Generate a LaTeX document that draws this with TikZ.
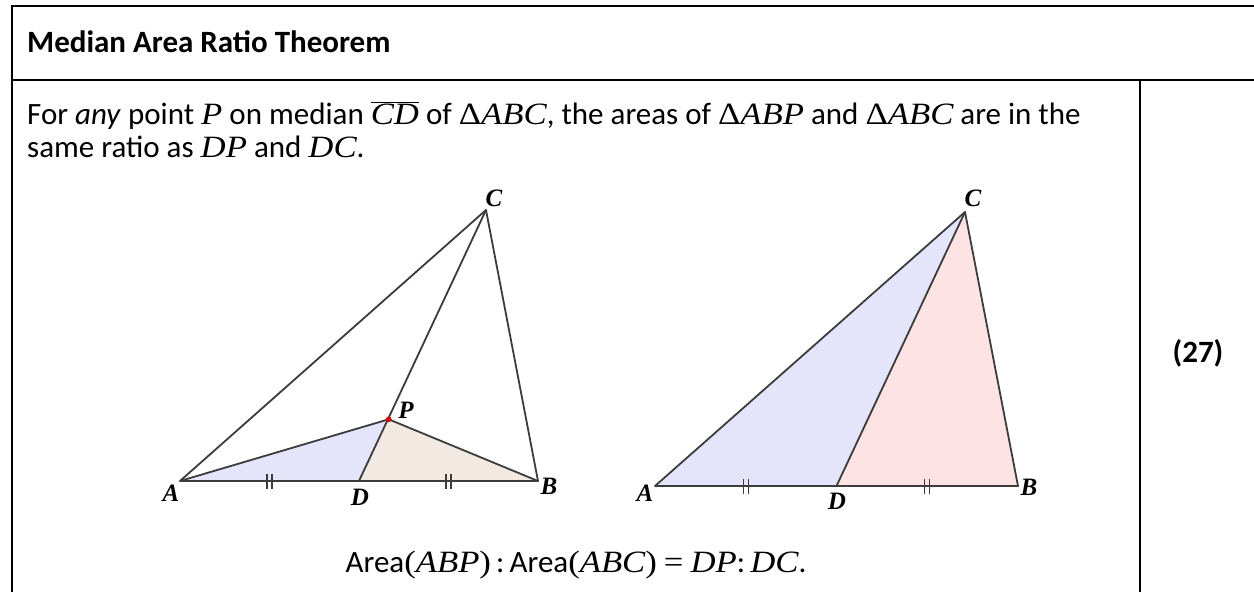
\documentclass[tikz,border=0pt]{standalone}
\usepackage{fontspec}
\setmainfont{Carlito}
\newfontfamily\mfont[FakeStretch=1.12]{Liberation Serif}
\newfontfamily\lblfont{Liberation Serif}
\newcommand\mi[1]{{\mfont\itshape #1}}
\definecolor{fillblue}{HTML}{E4E4FA}
\definecolor{fillbeige}{HTML}{F2E9E3}
\definecolor{fillpink}{HTML}{FDE3E3}
\definecolor{edge}{HTML}{3C3C3C}
\definecolor{pred}{HTML}{E00000}
\tikzset{
  tbl/.style={line width=2pt, black},
  tri/.style={line width=1.8pt, edge, line join=round},
  tick/.style={line width=1.4pt, edge},
  lbl/.style={inner sep=0pt, font=\fontsize{25}{29}\selectfont\lblfont\bfseries\itshape},
  txt/.style={inner sep=0pt, anchor=base west, font=\fontsize{31}{36}\selectfont},
}
\newcommand\ticks[1]{%
  \draw[tick] ([xshift=-2.5pt,yshift=-7.5pt]#1) -- ([xshift=-2.5pt,yshift=7.5pt]#1);
  \draw[tick] ([xshift=2.5pt,yshift=-7.5pt]#1) -- ([xshift=2.5pt,yshift=7.5pt]#1);}
\begin{document}
\begin{tikzpicture}[x=1pt,y=-1pt]
\useasboundingbox (0,0) rectangle (1254,592);
\fill[white] (0,0) rectangle (1254,592);
% table
\draw[tbl] (12,592) -- (12,6) -- (1254,6);
\draw[tbl] (12,80) -- (1254,80);
\draw[tbl] (1140,80) -- (1140,592);
% texts
\node[txt, font=\fontsize{31}{36}\selectfont\bfseries] (title) at (27,52) {Median Area Ratio Theorem};
\node[txt] (line1) at (27,124) {For \textit{any} point \mi{P} on median $\overline{\hbox{\mi{CD}}}$ of {\mfont Δ}\mi{ABC}, the areas of {\mfont Δ}\mi{ABP} and {\mfont Δ}\mi{ABC} are in the};
\node[txt] (line2) at (27,157) {same ratio as \mi{DP} and \mi{DC}.};
\node[inner sep=0pt, font=\fontsize{31}{36}\selectfont\bfseries] (num) at (1198,353) {(27)};
\node[inner sep=0pt, anchor=base, font=\fontsize{31}{36}\selectfont] (formula) at (576,572)
  {Area{\mfont(}\mi{ABP}{\mfont)}\,:\,Area{\mfont(}\mi{ABC}{\mfont)} {\mfont=} \mi{DP}:\,\mi{DC}.};
% left figure
\coordinate (A1) at (180,481);
\coordinate (B1) at (538,481);
\coordinate (C1) at (486,210);
\coordinate (D1) at (359,481);
\coordinate (P1) at (388.7,419.3);
\fill[fillblue] (A1) -- (D1) -- (P1) -- cycle;
\fill[fillbeige] (D1) -- (B1) -- (P1) -- cycle;
\draw[tri] (A1) -- (B1) -- (C1) -- cycle;
\draw[tri] (C1) -- (D1);
\draw[tri] (A1) -- (P1) -- (B1);
\coordinate (m1) at (269.5,481);
\coordinate (m2) at (448.5,481);
\ticks{m1}\ticks{m2}
\fill[pred] (P1) circle (2.8pt);
\node[lbl] (lA1) at (171,493) {A};
\node[lbl] (lB1) at (549,486) {B};
\node[lbl] (lC1) at (494,198) {C};
\node[lbl] (lD1) at (360,497) {D};
\node[lbl] (lP1) at (406,410) {P};
% right figure
\coordinate (A2) at (655,486);
\coordinate (B2) at (1018,486);
\coordinate (C2) at (965,212);
\coordinate (D2) at (836.5,486);
\fill[fillblue] (A2) -- (D2) -- (C2) -- cycle;
\fill[fillpink] (D2) -- (B2) -- (C2) -- cycle;
\draw[tri] (A2) -- (B2) -- (C2) -- cycle;
\draw[tri] (C2) -- (D2);
\coordinate (m3) at (745.75,486);
\coordinate (m4) at (927.25,486);
\ticks{m3}\ticks{m4}
\node[lbl] (lA2) at (645,493) {A};
\node[lbl] (lB2) at (1029,487) {B};
\node[lbl] (lC2) at (973,198) {C};
\node[lbl] (lD2) at (837,501) {D};
\end{tikzpicture}
\end{document}
